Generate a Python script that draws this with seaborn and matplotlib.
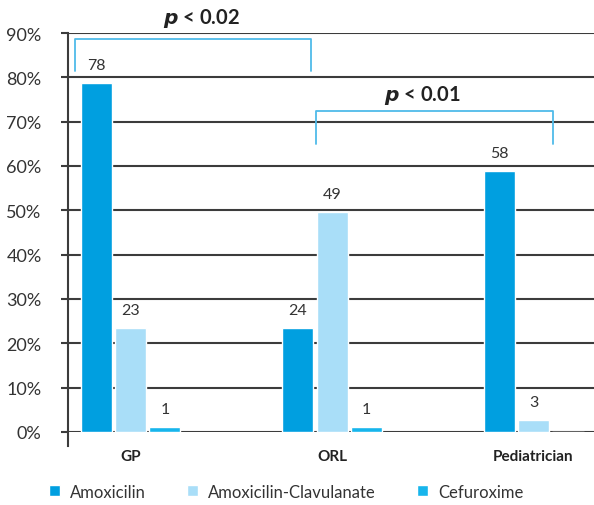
import matplotlib
matplotlib.use('Agg')
import matplotlib.pyplot as plt
import seaborn as sns
import pandas as pd

# chart values (bar heights, labels as printed)
specialties = ['GP', 'ORL', 'Pediatrician']
drugs = ['Amoxicilin', 'Amoxicilin-Clavulanate', 'Cefuroxime']
amoxicilin = [78.8, 23.5, 58.8]
amox_clav = [23.5, 49.7, 2.6]
cefuroxime = [1.1, 1.1, 0]
amoxicilin_lbl = ['78', '24', '58']
amox_clav_lbl = ['23', '49', '3']
cefuroxime_lbl = ['1', '1', '']
colors = ['#009fe0', '#a9def8', '#17b5ec']

df = pd.DataFrame({
    'specialty': specialties * 3,
    'drug': [d for d in drugs for _ in specialties],
    'pct': amoxicilin + amox_clav + cefuroxime,
})

sns.set_style('white')
plt.rcParams['font.family'] = ['Lato', 'DejaVu Sans']

fig = plt.figure(figsize=(5.94, 5.06), dpi=100)
ax = fig.add_axes([0.1145, 0.1443, 0.8855, 0.7885])

sns.barplot(data=df, x='specialty', y='pct', hue='drug', palette=colors,
            width=0.513, gap=0.1, saturation=1, ax=ax, legend=True)

# value labels
for cont, lbls in zip(ax.containers, [amoxicilin_lbl, amox_clav_lbl, cefuroxime_lbl]):
    ax.bar_label(cont, labels=lbls, padding=8, fontsize=11.5, color='#333333')

ax.set_xlim(-0.31, 2.30)
ax.set_ylim(0, 90)
ax.set_yticks(range(0, 100, 10))
ax.set_yticklabels([f'{v}%' for v in range(0, 100, 10)], fontsize=13, color='#333333')
ax.yaxis.grid(True, color='#3c3c3c', linewidth=1.5)
ax.set_axisbelow(True)
ax.tick_params(axis='y', left=True, length=5, width=1.5, color='#3c3c3c', pad=14)
ax.tick_params(axis='x', length=0, pad=12)
for lab in ax.get_xticklabels():
    lab.set_fontweight('bold')
    lab.set_fontsize(11)
    lab.set_color('#222222')
ax.set_xlabel('')
ax.set_ylabel('')
for s in ['top', 'right', 'bottom']:
    ax.spines[s].set_visible(False)
ax.spines['left'].set_color('#3c3c3c')
ax.spines['left'].set_linewidth(1.5)
ax.spines['left'].set_bounds(-3.2, 90)

# significance brackets
bc = '#4fbbe9'
ax.plot([-0.273, -0.273, 0.898, 0.898], [81.4, 88.65, 88.65, 81.4], color=bc, lw=1.3, clip_on=False)
ax.text(0.352, 93.4, r'$\boldsymbol{p}$ < 0.02', ha='center', va='center', fontsize=14.5,
        fontweight='bold', color='#222222')
ax.plot([0.923, 0.923, 2.099, 2.099], [65.0, 72.4, 72.4, 65.0], color=bc, lw=1.3, clip_on=False)
ax.text(1.449, 76.2, r'$\boldsymbol{p}$ < 0.01', ha='center', va='center', fontsize=14.5,
        fontweight='bold', color='#222222')

leg = ax.legend(loc='upper left', bbox_to_anchor=(-0.065, -0.092), ncol=3, frameon=False,
                fontsize=12, handlelength=0.65, handleheight=0.65, handletextpad=0.6,
                columnspacing=2.5)
for t in leg.get_texts():
    t.set_color('#333333')

fig.savefig('out.png', dpi=100)
